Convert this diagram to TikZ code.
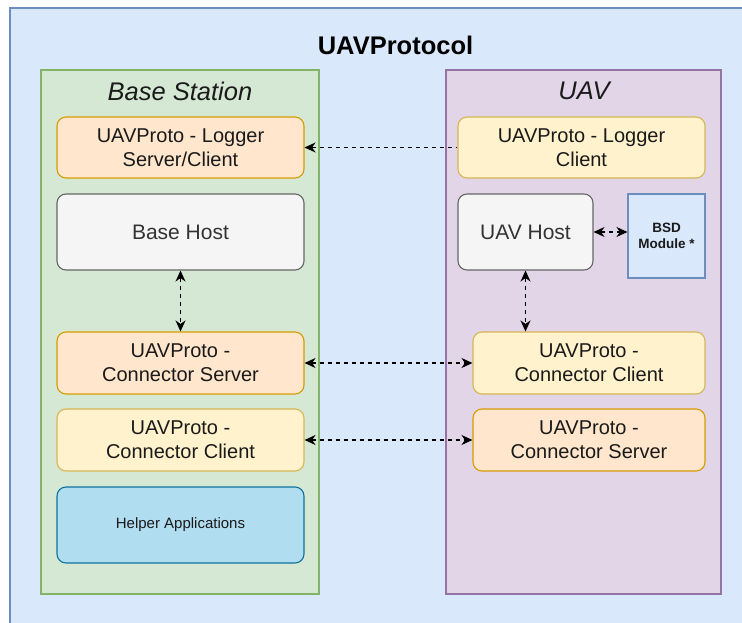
\documentclass[tikz,border=0pt]{standalone}
\usepackage{fontspec}
\setmainfont{Liberation Sans}
\usetikzlibrary{arrows.meta}

\definecolor{outerfill}{HTML}{DAE8FC}
\definecolor{outerline}{HTML}{6C8EBF}
\definecolor{greenfill}{HTML}{D5E8D4}
\definecolor{greenline}{HTML}{82B366}
\definecolor{purplefill}{HTML}{E1D5E7}
\definecolor{purpleline}{HTML}{9673A6}
\definecolor{orangefill}{HTML}{FFE6CC}
\definecolor{orangeline}{HTML}{D79B00}
\definecolor{yellowfill}{HTML}{FFF2CC}
\definecolor{yellowline}{HTML}{D6B656}
\definecolor{greyfill}{HTML}{F5F5F5}
\definecolor{greyline}{HTML}{666666}
\definecolor{greytext}{HTML}{333333}
\definecolor{helperfill}{HTML}{B1DDF0}
\definecolor{helperline}{HTML}{10739E}
\definecolor{textdark}{HTML}{1A1A1A}

\tikzset{
  box/.style={draw, rounded corners=9pt, line width=1.1pt, align=center,
    inner sep=0pt, text=textdark, font=\fontsize{20}{24}\selectfont},
  orangebox/.style={box, fill=orangefill, draw=orangeline},
  yellowbox/.style={box, fill=yellowfill, draw=yellowline},
  hostbox/.style={box, fill=greyfill, draw=greyline, text=greytext,
    font=\fontsize{21}{25}\selectfont},
  helperbox/.style={box, fill=helperfill, draw=helperline,
    font=\fontsize{15}{18}\selectfont},
  bsdbox/.style={draw=outerline, fill=outerfill, line width=1.1pt, align=center,
    inner sep=0pt, text=textdark, font=\fontsize{13.5}{16.5}\selectfont\bfseries},
  tip/.tip={Stealth[length=11pt,width=10pt,inset=3.5pt]},
  link/.style={draw=black, line width=1.3pt, dash pattern=on 4pt off 4pt, tip-tip},
  onelink/.style={draw=black, line width=1.3pt, dash pattern=on 4pt off 4pt, tip-},
}

\begin{document}
\begin{tikzpicture}[x=1pt, y=-1pt]
  \useasboundingbox (0,0) rectangle (742,623);
  \clip (0,0) rectangle (742,623);

  % protocol frame and the two sides
  \draw[fill=outerfill, draw=outerline, line width=1.3pt] (10,8) rectangle (760,640);
  \node[font=\fontsize{25.5}{30}\selectfont\bfseries, text=black] (title) at (395.5,45) {UAVProtocol};

  \draw[fill=greenfill, draw=greenline, line width=1.3pt] (41,70) rectangle (319,594);
  \node[font=\fontsize{25.5}{30}\selectfont\itshape, text=textdark] (basetitle) at (180,91) {Base Station};

  \draw[fill=purplefill, draw=purpleline, line width=1.3pt] (446,70) rectangle (721,594);
  \node[font=\fontsize{25.5}{30}\selectfont\itshape, text=textdark] (uavtitle) at (584,91) {UAV};

  % base station components
  \node[orangebox, minimum width=247pt, minimum height=61pt] (logsrv) at (180.5,147.5) {UAVProto - Logger\\Server/Client};
  \node[hostbox, minimum width=247pt, minimum height=76pt] (basehost) at (180.5,232) {Base Host};
  \node[orangebox, minimum width=247pt, minimum height=62pt] (connsrvL) at (180.5,363) {UAVProto -\\Connector Server};
  \node[yellowbox, minimum width=247pt, minimum height=62pt] (conncliL) at (180.5,440) {UAVProto -\\Connector Client};
  \node[helperbox, minimum width=247pt, minimum height=76pt] (helper) at (180.5,525) {Helper Applications};

  % UAV components
  \node[yellowbox, minimum width=247pt, minimum height=61pt] (logcli) at (581.5,147.5) {UAVProto - Logger\\Client};
  \node[hostbox, minimum width=135pt, minimum height=76pt] (uavhost) at (525.5,232) {UAV Host};
  \node[bsdbox, minimum width=77pt, minimum height=84pt] (bsd) at (666.5,236) {BSD\\Module *};
  \node[yellowbox, minimum width=232pt, minimum height=62pt] (conncliR) at (589,363) {UAVProto -\\Connector Client};
  \node[orangebox, minimum width=232pt, minimum height=62pt] (connsrvR) at (589,440) {UAVProto -\\Connector Server};

  % links
  \draw[onelink] (logsrv.east) -- (logcli.west);
  \draw[link] (basehost.south) -- (connsrvL.north);
  \draw[link] (uavhost.south) -- (uavhost.south |- conncliR.north);
  \draw[link] (uavhost.east) -- (uavhost.east -| bsd.west);
  \draw[link] (connsrvL.east) -- (conncliR.west);
  \draw[link] (conncliL.east) -- (connsrvR.west);
\end{tikzpicture}
\end{document}
